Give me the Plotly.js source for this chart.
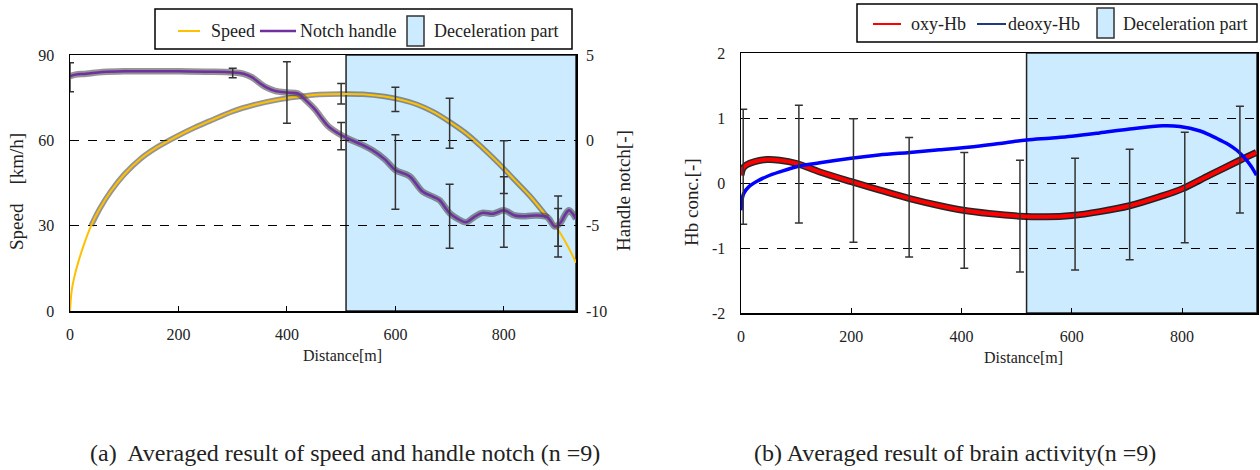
<!DOCTYPE html>
<html>
<head>
<meta charset="utf-8">
<script src="https://cdn.plot.ly/plotly-3.0.1.min.js"></script>
<style>html,body{margin:0;padding:0;background:#fff}#chart{width:1260px;height:470px}</style>
</head>
<body>
<div id="chart"></div>
<script>
// ---- (a) speed and handle notch ----
const speedDist = [0,3,8,15,25,39,55,75,100,130,160,193,230,260,300,340,380,420,460,500,540,580,610,640,670,700,730,760,790,820,850,880,900,920,933];
const speedKmh  = [0,7,12,17,23,30,36,42,48,53.5,57.5,61,64.5,67,70.2,72.5,74.2,75.3,76.1,76.3,76.2,75.4,74.3,72.6,70,66.5,62.5,57.5,52,46,40,33,28.5,22,17];

const notchDist = [0,10,30,60,100,150,200,250,300,320,335,350,362,378,400,420,433,452,465,477,495,514,539,557,580,600,626,650,669,681,700,715,730,745,760,780,800,820,840,860,880,894,905,913,920,927,933];
const notchVal  = [3.75,3.85,3.9,4.0,4.05,4.05,4.05,4.02,3.98,3.9,3.7,3.35,3.1,2.9,2.8,2.75,2.4,1.8,1.25,0.8,0.4,0.08,-0.27,-0.57,-1.1,-1.74,-2.1,-3.0,-3.3,-3.5,-4.26,-4.6,-4.8,-4.5,-4.25,-4.3,-4.1,-4.4,-4.45,-4.4,-4.5,-5.05,-4.8,-4.35,-4.1,-4.3,-4.6];

const speedErrDist = [500,600,700,800,900];
const speedErrMean = [76.4,74.4,66,50.6,29.7];
const speedErrSd   = [3.6,4.3,8.8,9.25,10.7];

const notchErrDist = [0,300,400,500,600,700,800,900];
const notchErrMean = [3.7,3.95,2.8,0.25,-1.86,-4.45,-4.2,-5.1];
const notchErrSd   = [0.85,0.28,1.8,0.8,2.18,1.88,2.06,1.1];

const decelA = [509, 933];
const xTicksA = [0,200,400,600,800];
const speedTicks = [0,30,60,90];
const notchTicks = [-10,-5,0,5];
const notchTickText = ['-10','-5','0','5'];

// ---- (b) brain activity ----
const oxyDist = [0,3,10,25,47,70,101,143,200,252,306,361,403,450,506,554,600,651,705,760,800,850,905,935];
const oxyVal  = [0.12,0.22,0.28,0.33,0.36,0.35,0.30,0.17,0.02,-0.11,-0.24,-0.35,-0.42,-0.47,-0.51,-0.52,-0.50,-0.44,-0.35,-0.21,-0.09,0.12,0.35,0.47];

const deoxyDist = [0,2,5,14,30,47,70,101,143,200,250,306,360,433,480,518,560,600,650,705,765,796,833,850,869,885,900,915,925,935];
const deoxyVal  = [-0.42,-0.25,-0.16,-0.06,0.03,0.10,0.17,0.25,0.31,0.38,0.43,0.47,0.51,0.57,0.62,0.66,0.69,0.72,0.77,0.83,0.88,0.87,0.80,0.74,0.66,0.59,0.50,0.37,0.26,0.12];

const hbErrDist = [4,105,204,305,405,506,606,705,805,905];
const hbErrMean = [0.25,0.29,0.04,-0.22,-0.42,-0.51,-0.48,-0.33,-0.07,0.36];
const hbErrSd   = [0.885,0.905,0.95,0.92,0.89,0.86,0.86,0.85,0.85,0.82];

const decelB = [518, 936];
const xTicksB = [0,200,400,600,800];
const hbTicks = [-2,-1,0,1,2];
const hbTickText = ['-2','-1','0','1','2'];

// ---- helpers ----
const W = 1260, H = 470;
const px = v => v / W;
const py = v => 1 - v / H;
const FONT = '"Liberation Serif", "Times New Roman", serif';
const ORANGE = '#FFC000', PURPLE = '#7030A0', HALO = 'rgba(60,60,60,0.55)';
const FILL = '#CCEBFF';

function pick(xs, ys, lo, hi) {
  const ox = [], oy = [];
  xs.forEach((x, i) => { if (x >= lo && x <= hi) { ox.push(x); oy.push(ys[i]); } });
  return [ox, oy];
}
const [spHx, spHy] = pick(speedDist, speedKmh, 30, 880);

const errStyle = {type:'data', visible:true, color:'#333', thickness:1.5, width:4};
const hidden = {color:'rgba(0,0,0,0)', size:2};

const traces = [
  {x:spHx, y:spHy, xaxis:'x', yaxis:'y', mode:'lines', line:{color:HALO, width:5.5, shape:'spline'}},
  {x:notchDist, y:notchVal, xaxis:'x', yaxis:'y2', mode:'lines', line:{color:HALO, width:6.5, shape:'spline'}},
  {x:speedDist, y:speedKmh, xaxis:'x', yaxis:'y', mode:'lines', line:{color:ORANGE, width:2, shape:'spline'}, name:'Speed'},
  {x:notchDist, y:notchVal, xaxis:'x', yaxis:'y2', mode:'lines', line:{color:PURPLE, width:2.5, shape:'spline'}, name:'Notch handle'},
  {x:speedErrDist, y:speedErrMean, xaxis:'x', yaxis:'y', mode:'markers', marker:hidden, error_y:Object.assign({array:speedErrSd}, errStyle)},
  {x:notchErrDist, y:notchErrMean, xaxis:'x', yaxis:'y2', mode:'markers', marker:hidden, error_y:Object.assign({array:notchErrSd}, errStyle)},

  {x:oxyDist, y:oxyVal, xaxis:'x2', yaxis:'y3', mode:'lines', line:{color:'rgba(0,0,0,0.85)', width:7, shape:'spline'}},
  {x:oxyDist, y:oxyVal, xaxis:'x2', yaxis:'y3', mode:'lines', line:{color:'#FF0000', width:4, shape:'spline'}, name:'oxy-Hb'},
  {x:deoxyDist, y:deoxyVal, xaxis:'x2', yaxis:'y3', mode:'lines', line:{color:'#0000FF', width:3.5, shape:'spline'}, name:'deoxy-Hb'},
  {x:hbErrDist, y:hbErrMean, xaxis:'x2', yaxis:'y3', mode:'markers', marker:hidden, error_y:Object.assign({array:hbErrSd}, errStyle)}
];
traces.forEach(t => { t.showlegend = false; t.hoverinfo = 'skip'; });

const tickFont = {family:FONT, size:16, color:'#222'};
const baseX = {showline:true, mirror:true, linecolor:'#000', linewidth:1.5, showgrid:false, zeroline:false,
  ticks:'inside', ticklen:5, tickcolor:'#000', tickwidth:1, tickfont:tickFont, ticklabelstandoff:8, fixedrange:true};
const baseY = {showline:true, mirror:true, linecolor:'#000', linewidth:1.5, zeroline:false,
  showgrid:true, gridcolor:'#000', gridwidth:1, griddash:'dash', ticks:'', tickfont:tickFont, ticklabelstandoff:11, fixedrange:true};

const shapes = [
  {type:'rect', xref:'x', yref:'y', x0:decelA[0], x1:decelA[1], y0:speedTicks[0], y1:speedTicks[3], fillcolor:FILL, line:{color:'#222', width:1.5}, layer:'below'},
  {type:'rect', xref:'x2', yref:'y3', x0:decelB[0], x1:decelB[1], y0:hbTicks[0], y1:hbTicks[4], fillcolor:FILL, line:{color:'#222', width:1.5}, layer:'below'},
  // legend (a)
  {type:'rect', xref:'paper', yref:'paper', x0:px(155), x1:px(572), y0:py(49), y1:py(9), fillcolor:'#fff', line:{color:'#000', width:1.5}},
  {type:'line', xref:'paper', yref:'paper', x0:px(178), x1:px(200), y0:py(31), y1:py(31), line:{color:ORANGE, width:2}},
  {type:'line', xref:'paper', yref:'paper', x0:px(260), x1:px(296), y0:py(31), y1:py(31), line:{color:PURPLE, width:2.5}},
  {type:'rect', xref:'paper', yref:'paper', x0:px(407), x1:px(424), y0:py(46), y1:py(16), fillcolor:FILL, line:{color:'#333', width:1.5}},
  // legend (b)
  {type:'rect', xref:'paper', yref:'paper', x0:px(857), x1:px(1257), y0:py(42), y1:py(4), fillcolor:'#fff', line:{color:'#000', width:1.5}},
  {type:'line', xref:'paper', yref:'paper', x0:px(873), x1:px(901), y0:py(24), y1:py(24), line:{color:'#FF0000', width:2}},
  {type:'line', xref:'paper', yref:'paper', x0:px(977), x1:px(1006), y0:py(24), y1:py(24), line:{color:'#203A80', width:2}},
  {type:'rect', xref:'paper', yref:'paper', x0:px(1097), x1:px(1114), y0:py(38), y1:py(8), fillcolor:FILL, line:{color:'#333', width:1.5}}
];

function ann(text, x, y, size, opts) {
  return Object.assign({text:text, x:px(x), y:py(y), xref:'paper', yref:'paper', showarrow:false,
    xanchor:'center', yanchor:'middle', font:{family:FONT, size:size, color:'#222'}}, opts || {});
}
const annotations = [
  ann('Speed', 209, 31, 18, {xanchor:'left'}),
  ann('Notch handle', 298, 31, 18, {xanchor:'left'}),
  ann('Deceleration part', 432, 31, 18, {xanchor:'left'}),
  ann('oxy-Hb', 909, 24, 18, {xanchor:'left'}),
  ann('deoxy-Hb', 1006, 24, 18, {xanchor:'left'}),
  ann('Deceleration part', 1121, 24, 18, {xanchor:'left'}),
  ann('Speed\u3000[km/h]', 17, 192, 19, {textangle:-90}),
  ann('Handle notch[-]', 623, 191, 19, {textangle:-90}),
  ann('Distance[m]', 342, 355, 16),
  ann('Hb conc.[-]', 691, 202, 19, {textangle:-90}),
  ann('Distance[m]', 1023, 357, 16),
  ann('(a)  Averaged result of speed and handle notch (n =9)', 345, 453, 24),
  ann('(b) Averaged result of brain activity(n =9)', 955, 453, 24)
];

const layout = {
  width:W, height:H, margin:{l:0, r:0, t:0, b:0}, paper_bgcolor:'#fff', plot_bgcolor:'rgba(0,0,0,0)',
  showlegend:false, font:{family:FONT},
  xaxis: Object.assign({}, baseX, {domain:[px(70), px(576)], range:[0, decelA[1]], tickvals:xTicksA, anchor:'y'}),
  yaxis: Object.assign({}, baseY, {domain:[py(311), py(55)], range:[speedTicks[0], speedTicks[3]], tickvals:speedTicks, anchor:'x'}),
  yaxis2: {overlaying:'y', side:'right', anchor:'x', range:[notchTicks[0], notchTicks[3]], tickvals:notchTicks, ticktext:notchTickText,
    showgrid:false, zeroline:false, showline:false, ticks:'', tickfont:tickFont, ticklabelstandoff:9, fixedrange:true},
  xaxis2: Object.assign({}, baseX, {domain:[px(741), px(1257)], range:[0, decelB[1]], tickvals:xTicksB, anchor:'y3'}),
  yaxis3: Object.assign({}, baseY, {domain:[py(313), py(53)], range:[hbTicks[0], hbTicks[4]], tickvals:hbTicks, ticktext:hbTickText, anchor:'x2'}),
  shapes:shapes, annotations:annotations
};

Plotly.newPlot('chart', traces, layout, {displayModeBar:false, staticPlot:true});
</script>
</body>
</html>
